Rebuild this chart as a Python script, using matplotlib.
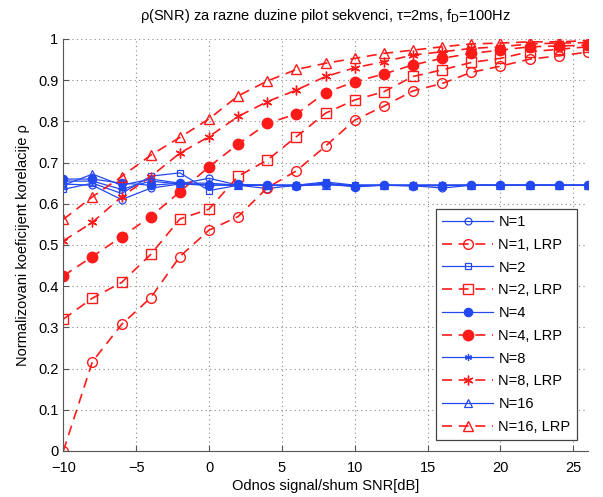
import numpy as np
import matplotlib.pyplot as plt

plt.rcParams['font.family'] = ['Liberation Sans', 'DejaVu Sans']
plt.rcParams['font.size'] = 10

# SNR u dB
snr = np.arange(-10, 27, 2)

# bez LRP
rho_n1 = [0.648, 0.645, 0.610, 0.638, 0.648, 0.662, 0.645, 0.637, 0.645, 0.650,
          0.643, 0.645, 0.644, 0.638, 0.645, 0.645, 0.645, 0.645, 0.645]
rho_n2 = [0.635, 0.650, 0.625, 0.667, 0.675, 0.632, 0.645, 0.645, 0.645, 0.653,
          0.645, 0.645, 0.645, 0.645, 0.645, 0.645, 0.645, 0.645, 0.645]
rho_n4 = [0.660, 0.660, 0.650, 0.645, 0.650, 0.645, 0.647, 0.645, 0.643, 0.648,
          0.641, 0.645, 0.643, 0.644, 0.645, 0.645, 0.645, 0.645, 0.645]
rho_n8 = [0.655, 0.655, 0.635, 0.655, 0.648, 0.645, 0.645, 0.645, 0.645, 0.647,
          0.645, 0.645, 0.645, 0.645, 0.645, 0.645, 0.645, 0.645, 0.645]
rho_n16 = [0.645, 0.672, 0.645, 0.660, 0.650, 0.650, 0.645, 0.645, 0.645, 0.646,
           0.645, 0.645, 0.645, 0.645, 0.645, 0.645, 0.645, 0.645, 0.645]

# sa LRP
rho_n1_lrp = [0.0, 0.217, 0.307, 0.372, 0.472, 0.536, 0.569, 0.639, 0.680, 0.740,
              0.803, 0.837, 0.874, 0.892, 0.919, 0.934, 0.951, 0.959, 0.968]
rho_n2_lrp = [0.320, 0.371, 0.409, 0.477, 0.563, 0.587, 0.667, 0.706, 0.763, 0.820,
              0.852, 0.872, 0.909, 0.925, 0.943, 0.953, 0.969, 0.975, 0.981]
rho_n4_lrp = [0.425, 0.472, 0.520, 0.569, 0.629, 0.690, 0.745, 0.795, 0.818, 0.870,
              0.896, 0.915, 0.937, 0.953, 0.965, 0.973, 0.981, 0.983, 0.985]
rho_n8_lrp = [0.510, 0.555, 0.617, 0.666, 0.723, 0.763, 0.812, 0.848, 0.876, 0.909,
              0.930, 0.945, 0.961, 0.969, 0.977, 0.981, 0.988, 0.990, 0.991]
rho_n16_lrp = [0.562, 0.617, 0.666, 0.718, 0.761, 0.806, 0.862, 0.898, 0.926, 0.941,
               0.953, 0.965, 0.973, 0.981, 0.988, 0.990, 0.993, 0.993, 0.996]

blue = '#2448f0'
red = '#ff1a1a'
asterisk = (6, 2, 0)

fig = plt.figure(figsize=(6.03, 4.97), dpi=100)
ax = fig.add_axes([0.105, 0.0926, 0.87, 0.829])

def plain(y, m, lab, fill=False, ms=5):
    ax.plot(snr, y, color=blue, lw=0.9, marker=m, ms=ms,
            mfc=blue if fill else 'none', mec=blue, mew=0.9, label=lab)

def lrp(y, m, lab, fill=False, ms=7):
    ax.plot(snr, y, color=red, lw=1.2, ls=(0, (6, 4)), marker=m, ms=ms,
            mfc=red if fill else 'none', mec=red, mew=1.0, label=lab)

plain(rho_n1, 'o', 'N=1')
lrp(rho_n1_lrp, 'o', 'N=1, LRP')
plain(rho_n2, 's', 'N=2')
lrp(rho_n2_lrp, 's', 'N=2, LRP', ms=6.5)
plain(rho_n4, 'o', 'N=4', fill=True, ms=6)
lrp(rho_n4_lrp, 'o', 'N=4, LRP', fill=True, ms=7.5)
plain(rho_n8, asterisk, 'N=8', ms=5)
lrp(rho_n8_lrp, asterisk, 'N=8, LRP', ms=7)
plain(rho_n16, '^', 'N=16', ms=6)
lrp(rho_n16_lrp, '^', 'N=16, LRP', ms=7.5)

ax.set_xlim(-10, 26)
ax.set_ylim(0, 1)
ax.set_xticks(np.arange(-10, 26, 5))
ax.set_yticks(np.arange(0, 1.01, 0.1))
ax.set_yticklabels(['0', '0.1', '0.2', '0.3', '0.4', '0.5', '0.6', '0.7', '0.8', '0.9', '1'])
ax.grid(True, ls=(0, (1, 3)), color='#888888', lw=0.8)
ax.tick_params(direction='in', length=4, color='#555555', labelsize=10.5)
ax.tick_params(axis='x', pad=7)
for s in ['top', 'right']:
    ax.spines[s].set_visible(False)
for s in ['left', 'bottom']:
    ax.spines[s].set_color('#555555')

ax.set_title(r'ρ(SNR) za razne duzine pilot sekvenci, τ=2ms, f$_\mathrm{D}$=100Hz',
             fontsize=10.5, pad=14)
ax.set_xlabel('Odnos signal/shum SNR[dB]', fontsize=10.5, labelpad=3)
ax.set_ylabel('Normalizovani koeficijent korelacije ρ', fontsize=10.5, labelpad=6)

leg = ax.legend(loc='lower right', bbox_to_anchor=(0.993, 0.008), fontsize=10.5,
                fancybox=False, framealpha=1, edgecolor='#444444',
                handlelength=3.5, labelspacing=0.6, borderpad=0.45,
                handletextpad=0.35)
leg.get_frame().set_linewidth(0.9)

fig.savefig('out.png', dpi=100)
